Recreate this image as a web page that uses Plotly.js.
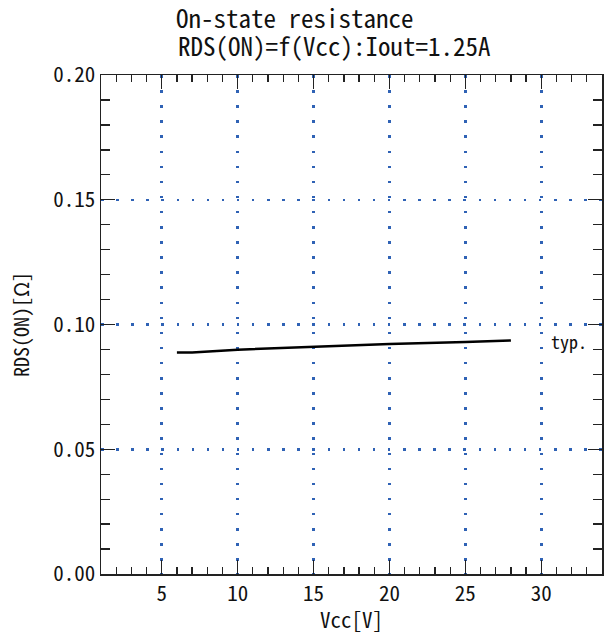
<!DOCTYPE html>
<html>
<head>
<meta charset="utf-8">
<script src="https://cdn.plot.ly/plotly-3.0.1.min.js"></script>
<style>html,body{margin:0;padding:0;background:#fff;}#chart{width:605px;height:634px;}</style>
</head>
<body>
<div id="chart"></div>
<script>
// Data
const vcc = [6, 7, 10, 15, 20, 25, 28];
const rdsOn = [0.0888, 0.0888, 0.0899, 0.0912, 0.0922, 0.0930, 0.0936];
const xTickVals = [5, 10, 15, 20, 25, 30];
const xTickText = ["5", "10", "15", "20", "25", "30"];
const yTickVals = [0, 0.05, 0.10, 0.15, 0.20];
const yTickText = ["0.00", "0.05", "0.10", "0.15", "0.20"];
const seriesLabel = "typ.";
const titleLine1 = "On-state resistance";
const titleLine2 = "RDS(ON)=f(Vcc):Iout=1.25A";
const xTitle = "Vcc[V]";
const yTitle = "RDS(ON)[Ω]";

const FONT = '"Noto Sans Mono CJK JP", "DejaVu Sans Mono", "Noto Sans CJK JP", monospace';
const gridColor = '#2f62b5';

const trace = {
  x: vcc, y: rdsOn, type: 'scatter', mode: 'lines',
  line: {color: '#000', width: 2.5}, showlegend: false, hoverinfo: 'skip'
};

const axisCommon = {
  showline: true, linecolor: '#222', linewidth: 1.5, mirror: 'ticks',
  ticks: 'inside', ticklen: 14, tickwidth: 1.3, tickcolor: '#222',
  showgrid: true, gridcolor: gridColor, gridwidth: 2.5, griddash: '2.5px,12.6px',
  zeroline: false, tickfont: {family: FONT, size: 21, color: '#111'},
  tickmode: 'array'
};

const layout = {
  width: 605, height: 634,
  margin: {l: 101, r: 3, t: 75, b: 60},
  paper_bgcolor: '#fff', plot_bgcolor: '#fff',
  font: {family: FONT, color: '#111'},
  title: {
    text: titleLine1, xref: 'container', x: 0.291, xanchor: 'left',
    yref: 'container', y: 0.9692, yanchor: 'middle',
    font: {family: FONT, size: 25, color: '#111'}
  },
  xaxis: Object.assign({}, axisCommon, {
    range: [1, 34], tickvals: xTickVals, ticktext: xTickText,
    minor: {dtick: 1, tick0: 0, ticks: 'inside', ticklen: 7, tickwidth: 1.3, tickcolor: '#222', showgrid: false},
    title: {text: xTitle, font: {family: FONT, size: 21, color: '#111'}, standoff: 6}
  }),
  yaxis: Object.assign({}, axisCommon, {
    range: [0, 0.2], tickvals: yTickVals, ticktext: yTickText,
    minor: {dtick: 0.01, tick0: 0, ticks: 'inside', ticklen: 9, tickwidth: 1.3, tickcolor: '#222', showgrid: false},
    title: {text: yTitle, font: {family: FONT, size: 20, color: '#111'}, standoff: 18}
  }),
  annotations: [
    {
      x: 0.1497, y: 1.0605, xref: 'paper', yref: 'paper', text: titleLine2, showarrow: false,
      xanchor: 'left', yanchor: 'middle', font: {family: FONT, size: 25, color: '#111'}
    },
    {
      x: 30.5, y: 0.0934, xref: 'x', yref: 'y', text: seriesLabel, showarrow: false,
      xanchor: 'left', yanchor: 'middle', font: {family: FONT, size: 18, color: '#111'}
    }
  ]
};

Plotly.newPlot('chart', [trace], layout, {staticPlot: true, displayModeBar: false});
</script>
</body>
</html>
